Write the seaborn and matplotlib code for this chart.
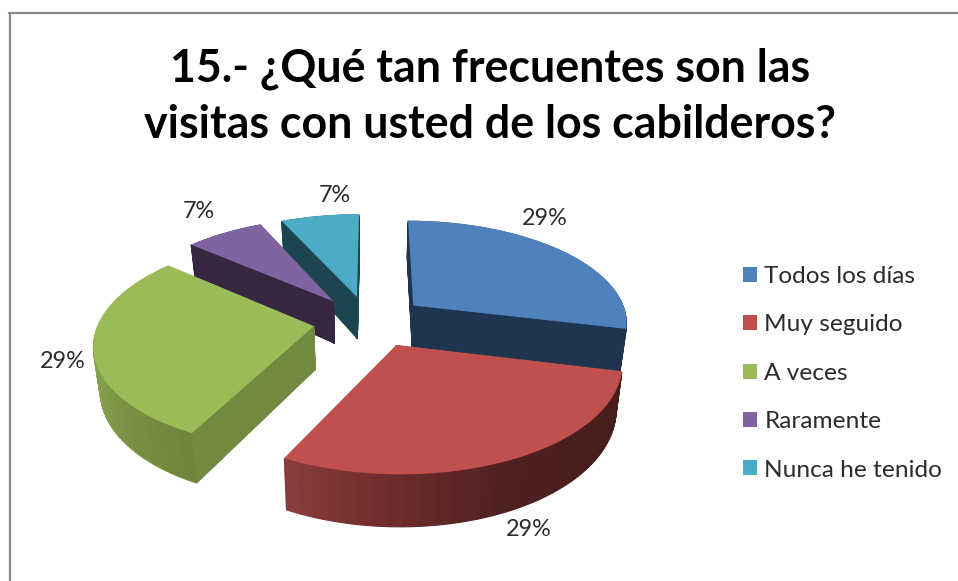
import numpy as np
import matplotlib
matplotlib.use('Agg')
import matplotlib.pyplot as plt
from matplotlib.lines import Line2D
from matplotlib.patches import Patch
from matplotlib.transforms import Transform
import seaborn as sns

categories = ['Todos los días', 'Muy seguido', 'A veces', 'Raramente', 'Nunca he tenido']
values = [29, 29, 29, 7, 7]
title = '15.- ¿Qué tan frecuentes son las\nvisitas con usted de los cabilderos?'

top_colors = ['#4F81BD', '#C0504D', '#9BBB59', '#8064A2', '#4BACC6']
cut_colors = ['#1F344F', '#4A1D1D', '#728A3F', '#36263F', '#1D4550']
# colores del borde exterior, en el sentido de las agujas del reloj
side_stops = [
    ['#1F344F', '#1F344F'],
    ['#4A1D1D', '#4A1D1D', '#4F2020', '#6B2B2B', '#8A3B3B'],
    ['#6E853C', '#7A9544', '#8EAB52', '#94B356', '#98B858'],
    ['#36263F', '#36263F'],
    ['#1D4550', '#1D4550'],
]
label_pos = [(545, 218), (529, 529), (63, 361), (199, 212), (335, 195)]
slice_dx = [-1, 0, -6, -8, -5]    # ajuste horizontal de cada porcion, en pixeles
draw_order = [4, 3, 0, 2, 1]

W, H = 958, 581
CX, CY = 373, 321    # centro del pie en pixeles
RX, RY = 215, 102    # radio de la elipse
TILT = 0.15
SHRINK = 0.06
EXPLODE = 0.25
DEPTH = 0.42
N_LAYERS = 46
N_SUB = 30


class Tilt(Transform):
    """Perspectiva simple del plano del pie, z baja la capa"""
    input_dims = 2
    output_dims = 2

    def __init__(self, z=0.0):
        super().__init__()
        self.z = z

    def transform_non_affine(self, xy):
        xy = np.asarray(xy, dtype=float)
        s = 1 / (1 + TILT * xy[:, 1])
        return np.column_stack([xy[:, 0] * s * (1 - SHRINK * self.z), (xy[:, 1] - self.z) * s])


sns.set_theme(style='white')
plt.rcParams['font.family'] = ['Lato', 'DejaVu Sans']

fig = plt.figure(figsize=(W / 100, H / 100), dpi=100, facecolor='white')
ax = fig.add_axes([0, 0, 1, 1])

fracs = np.array(values) / sum(values)
starts = 90 - 360 * np.concatenate([[0], np.cumsum(fracs)[:-1]])
ends = starts - 360 * fracs


def cut_face(center, angle, color, zorder):
    a = np.deg2rad(angle)
    tip = np.array(center)
    rim = tip + [np.cos(a), np.sin(a)]
    upper = Tilt(0).transform_non_affine(np.array([tip, rim]))
    lower = Tilt(DEPTH).transform_non_affine(np.array([rim, tip]))
    pts = np.vstack([upper, lower])
    ax.fill(pts[:, 0], pts[:, 1], color=color, lw=0.5, zorder=zorder)


for rank, i in enumerate(draw_order):
    mid = np.deg2rad((starts[i] + ends[i]) / 2)
    center = (EXPLODE * np.cos(mid) + slice_dx[i] / RX, EXPLODE * np.sin(mid))
    base = 10 * (rank + 1)
    side = sns.blend_palette(side_stops[i], N_SUB)

    # paredes: capas de abajo hacia arriba
    for layer in range(N_LAYERS, 0, -1):
        tilt = Tilt(DEPTH * layer / N_LAYERS) + ax.transData
        wedges, _ = ax.pie([fracs[i] / N_SUB] * N_SUB, colors=side, center=center,
                           startangle=starts[i], counterclock=False, normalize=False,
                           labeldistance=None, wedgeprops={'linewidth': 0.8})
        for w in wedges:
            w.set_edgecolor(w.get_facecolor())
            w.set_transform(tilt)
            w.set_zorder(base)

    # caras del corte que miran al frente
    if np.cos(np.deg2rad(starts[i])) < 1e-6:
        cut_face(center, starts[i], cut_colors[i], base + 1)
    if np.cos(np.deg2rad(ends[i])) > 1e-6:
        cut_face(center, ends[i], cut_colors[i], base + 1)

    # cara superior
    wedges, _ = ax.pie([fracs[i]], colors=[top_colors[i]], center=center,
                       startangle=starts[i], counterclock=False, normalize=False,
                       labeldistance=None, wedgeprops={'linewidth': 0})
    wedges[0].set_transform(Tilt(0) + ax.transData)
    wedges[0].set_zorder(base + 2)

ax.set_aspect('auto')
ax.set_xlim(-CX / RX, (W - CX) / RX)
ax.set_ylim(-(H - CY) / RY, CY / RY)
ax.axis('off')

fig.text(490 / W, 1 - 97 / H, title, ha='center', va='center', fontsize=32.2,
         fontweight='bold', color='black', linespacing=1.4)

for v, (x, y) in zip(values, label_pos):
    fig.text(x / W, 1 - y / H, f'{v}%', ha='center', va='center', fontsize=16.8, color='#2b2b2b')

handles = [Patch(facecolor=c, edgecolor='none', label=n) for c, n in zip(top_colors, categories)]
fig.legend(handles=handles, loc='upper left', bbox_to_anchor=(743 / W, 1 - 266 / H),
           frameon=False, fontsize=17.6, labelcolor='#2b2b2b', handlelength=0.57,
           handleheight=0.57, handletextpad=0.3, labelspacing=1.12,
           borderaxespad=0, borderpad=0)

# marco gris del grafico
fig.add_artist(Line2D([10 / W, 10 / W], [0, 1 - 13 / H], color='#8a8a8a', lw=1.6))
fig.add_artist(Line2D([9 / W, 1], [1 - 13 / H, 1 - 13 / H], color='#8a8a8a', lw=1.6))

fig.savefig('out.png', dpi=100, facecolor='white')
